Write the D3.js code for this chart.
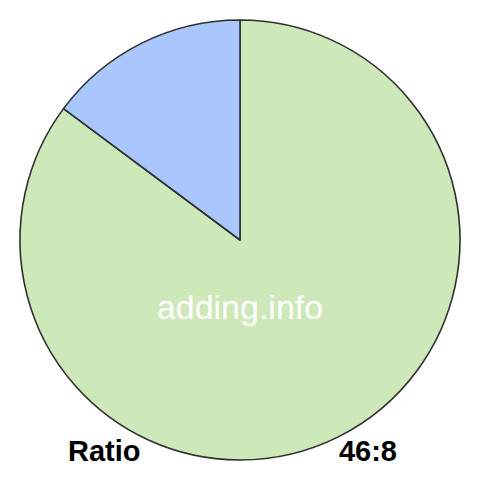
<!DOCTYPE html>
<html><head><meta charset="utf-8">
<script src="https://cdn.jsdelivr.net/npm/d3@7"></script>
<style>html,body{margin:0;padding:0;background:#fff;}svg{display:block;}</style>
</head><body>
<svg id="c" width="480" height="480"></svg>
<script>
const categories = ["A", "B"];
const values = [46, 8];
const colors = ["#cde8b9", "#a9c7fc"];
const ratioLabel = "Ratio";
const ratioValue = "46:8";
const watermark = "adding.info";

const svg = d3.select("#c");
const cx = 240, cy = 240, r = 220;
const pie = d3.pie().sort(null).value(d => d.v);
const arc = d3.arc().innerRadius(0).outerRadius(r);
const data = categories.map((c, i) => ({c, v: values[i]}));
const g = svg.append("g").attr("transform", `translate(${cx},${cy})`);
g.selectAll("path").data(pie(data)).join("path")
  .attr("d", arc)
  .attr("fill", (d, i) => colors[i])
  .attr("stroke", "#2f2f2f")
  .attr("stroke-width", 1.6)
  .attr("stroke-linejoin", "round");

svg.append("text").attr("x", 240).attr("y", 319)
  .attr("text-anchor", "middle")
  .attr("font-family", "Liberation Sans, Arial, sans-serif")
  .attr("font-size", 34).attr("fill", "#fff").text(watermark);

svg.append("text").attr("x", 68).attr("y", 461)
  .attr("font-family", "Liberation Sans, Arial, sans-serif")
  .attr("font-weight", "bold").attr("font-size", 29).attr("fill", "#000").text(ratioLabel);
svg.append("text").attr("x", 397).attr("y", 461).attr("text-anchor", "end")
  .attr("font-family", "Liberation Sans, Arial, sans-serif")
  .attr("font-weight", "bold").attr("font-size", 29).attr("fill", "#000").text(ratioValue);
</script>
</body></html>
